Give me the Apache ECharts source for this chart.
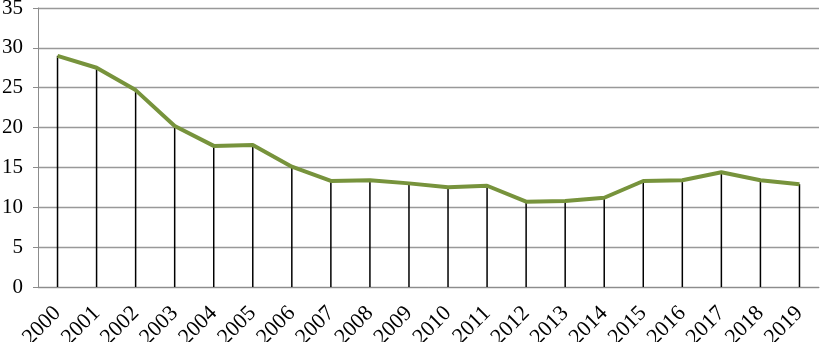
<!DOCTYPE html>
<html>
<head>
<meta charset="utf-8">
<script src="https://cdn.jsdelivr.net/npm/echarts@6/dist/echarts.min.js"></script>
<style>
  html, body { margin: 0; padding: 0; background: #fff; }
  #main { width: 821px; height: 342px; }
</style>
</head>
<body>
<div id="main"></div>
<script>
var years = ["2000", "2001", "2002", "2003", "2004", "2005", "2006", "2007", "2008", "2009",
             "2010", "2011", "2012", "2013", "2014", "2015", "2016", "2017", "2018", "2019"];
var values = [29.0, 27.5, 24.7, 20.2, 17.7, 17.8, 15.1, 13.3, 13.4, 13.0,
              12.5, 12.7, 10.7, 10.8, 11.2, 13.3, 13.4, 14.4, 13.4, 12.9];
var yTicks = [0, 5, 10, 15, 20, 25, 30, 35];

var chart = echarts.init(document.getElementById("main"));
var font = "Liberation Serif, Times New Roman, serif";

chart.setOption({
  animation: false,
  grid: { left: 38, right: 2, top: 8, bottom: 55, containLabel: false, outerBoundsMode: "none" },
  xAxis: {
    type: "category",
    data: years,
    boundaryGap: true,
    axisLine: { lineStyle: { color: "#8c8c8c", width: 1 } },
    axisTick: { show: false },
    axisLabel: {
      interval: 0,
      rotate: 45,
      margin: 23,
      color: "#000",
      fontFamily: font,
      fontSize: 22
    }
  },
  yAxis: {
    type: "value",
    min: yTicks[0],
    max: yTicks[yTicks.length - 1],
    interval: 5,
    axisLine: { show: true, lineStyle: { color: "#8c8c8c", width: 1 } },
    axisTick: { show: true, length: 5, lineStyle: { color: "#8c8c8c" } },
    splitLine: { lineStyle: { color: "#999", width: 1.3 } },
    axisLabel: {
      margin: 15,
      color: "#000",
      fontFamily: font,
      fontSize: 21
    }
  },
  series: [
    {
      // drop lines from each point to the axis
      type: "bar",
      data: values,
      barWidth: 1.5,
      itemStyle: { color: "#000" },
      z: 1
    },
    {
      type: "line",
      data: values,
      symbol: "none",
      lineStyle: { color: "#77933c", width: 4 },
      z: 3
    }
  ]
});
</script>
</body>
</html>
